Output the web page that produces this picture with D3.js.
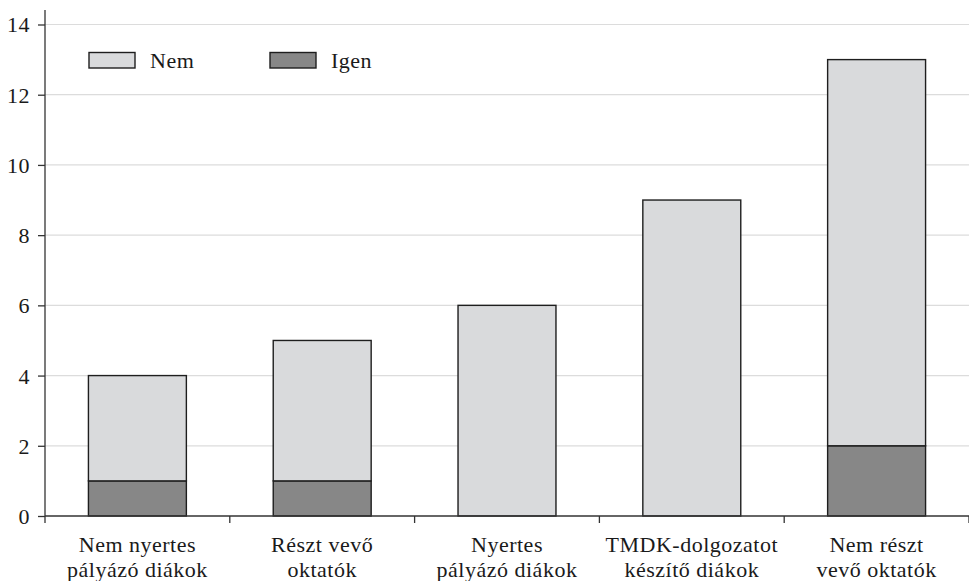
<!DOCTYPE html>
<html>
<head>
<meta charset="utf-8">
<script src="https://cdn.jsdelivr.net/npm/d3@7"></script>
<style>
  body { margin: 0; background: #fff; }
</style>
</head>
<body>
<div id="chart"></div>
<script>
// categories (two label lines each) and series values
var categories = ["Nem nyertes pályázó diákok", "Részt vevő oktatók", "Nyertes pályázó diákok", "TMDK-dolgozatot készítő diákok", "Nem részt vevő oktatók"];
var labelLines = [["Nem nyertes", "pályázó diákok"], ["Részt vevő", "oktatók"], ["Nyertes", "pályázó diákok"], ["TMDK-dolgozatot", "készítő diákok"], ["Nem részt", "vevő oktatók"]];
var igen = [1, 1, 0, 0, 2];
var nem = [3, 4, 6, 9, 11];
var seriesNames = ["Igen", "Nem"];
var yTicks = [0, 2, 4, 6, 8, 10, 12, 14];

var width = 969, height = 581;
var margin = { top: 10, right: 0, bottom: 65, left: 45 };
var fontStyle = "font-family:'Liberation Serif',serif;font-size:22px;letter-spacing:0.5px;fill:#1a1a1a";

var svg = d3.select("#chart").append("svg")
  .attr("width", width)
  .attr("height", height);

var data = categories.map(function (c, i) {
  return { category: c, Igen: igen[i], Nem: nem[i] };
});

var x = d3.scaleBand()
  .domain(categories)
  .range([margin.left, width - margin.right])
  .paddingInner(0.47)
  .paddingOuter(0.235);

var y = d3.scaleLinear()
  .domain([0, 14])
  .range([516, 24.5]);

var colors = { Igen: "#878787", Nem: "#d9dadc" };

// grid lines
svg.append("g")
  .selectAll("line")
  .data(yTicks.slice(1))
  .enter().append("line")
  .attr("x1", margin.left)
  .attr("x2", width)
  .attr("y1", function (d) { return y(d); })
  .attr("y2", function (d) { return y(d); })
  .attr("stroke", "#dcdcdc")
  .attr("stroke-width", 1.2);

// stacked bars
var stacked = d3.stack().keys(seriesNames)(data);
svg.append("g")
  .selectAll("g")
  .data(stacked)
  .enter().append("g")
  .attr("fill", function (d) { return colors[d.key]; })
  .selectAll("rect")
  .data(function (d) { return d.filter(function (v) { return v[1] > v[0]; }); })
  .enter().append("rect")
  .attr("x", function (d) { return x(d.data.category); })
  .attr("y", function (d) { return y(d[1]); })
  .attr("height", function (d) { return y(d[0]) - y(d[1]); })
  .attr("width", x.bandwidth())
  .attr("stroke", "#1e1e1e")
  .attr("stroke-width", 1.4);

// y axis
var yAxis = svg.append("g")
  .attr("transform", "translate(" + margin.left + ",0)")
  .call(d3.axisLeft(y).tickValues(yTicks).tickSize(7).tickPadding(8).tickSizeOuter(0));
yAxis.select(".domain").attr("d", "M0,10V516").attr("stroke", "#333").attr("stroke-width", 1.3);
yAxis.selectAll(".tick line").attr("stroke", "#333").attr("stroke-width", 1.3);
yAxis.selectAll(".tick text")
  .attr("style", fontStyle)
  .attr("dy", "0.34em");

// x axis
var step = x.step();
var xBounds = d3.range(categories.length + 1).map(function (i) { return margin.left + i * step; });
var xAxis = svg.append("g");
xAxis.append("line")
  .attr("x1", margin.left).attr("x2", width)
  .attr("y1", 516).attr("y2", 516)
  .attr("stroke", "#333").attr("stroke-width", 1.3);
xAxis.selectAll("line.tk")
  .data(xBounds)
  .enter().append("line")
  .attr("class", "tk")
  .attr("x1", function (d) { return d; }).attr("x2", function (d) { return d; })
  .attr("y1", 516).attr("y2", 523)
  .attr("stroke", "#333").attr("stroke-width", 1.3);

xAxis.selectAll("text")
  .data(categories)
  .enter().append("text")
  .attr("x", function (d) { return x(d) + x.bandwidth() / 2; })
  .attr("y", 552)
  .attr("text-anchor", "middle")
  .attr("style", fontStyle)
  .selectAll("tspan")
  .data(function (d, i) { return labelLines[i]; })
  .enter().append("tspan")
  .attr("x", function () { return d3.select(this.parentNode).attr("x"); })
  .attr("dy", function (d, i) { return i === 0 ? 0 : 25; })
  .text(function (d) { return d; });

// legend
var legendItems = [{ key: "Nem", x: 89 }, { key: "Igen", x: 270 }];
var legend = svg.append("g")
  .selectAll("g")
  .data(legendItems)
  .enter().append("g")
  .attr("transform", function (d) { return "translate(" + d.x + ",52.5)"; });
legend.append("rect")
  .attr("width", 46).attr("height", 15.5)
  .attr("fill", function (d) { return colors[d.key]; })
  .attr("stroke", "#1e1e1e").attr("stroke-width", 1.4);
legend.append("text")
  .attr("x", 61).attr("y", 15.5)
  .attr("style", fontStyle)
  .text(function (d) { return d.key; });
</script>
</body>
</html>
